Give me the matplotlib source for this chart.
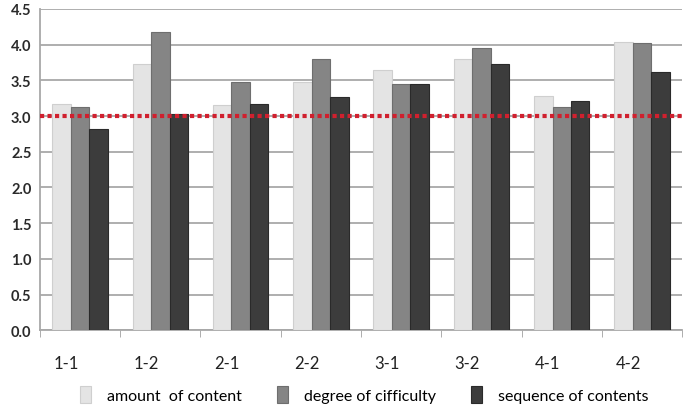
import matplotlib.pyplot as plt
import matplotlib.transforms as mtransforms
import numpy as np

# data
units = ['1-1', '1-2', '2-1', '2-2', '3-1', '3-2', '4-1', '4-2']
amount = [3.17, 3.73, 3.15, 3.47, 3.64, 3.80, 3.28, 4.03]
difficulty = [3.12, 4.17, 3.47, 3.80, 3.45, 3.95, 3.12, 4.02]
sequence = [2.82, 3.03, 3.17, 3.26, 3.45, 3.73, 3.21, 3.61]
series_names = ['amount  of content', 'degree of cifficulty', 'sequence of contents']
baseline = 3.0

plt.rcParams['font.family'] = ['Lato', 'DejaVu Sans']

fig = plt.figure(figsize=(6.87, 4.14), dpi=100)
ax = fig.add_axes([0.058, 0.200, 0.935, 0.776])

x = np.arange(len(units))
w = 0.23
colors = ['#e4e4e4', '#858585', '#3c3c3c']
edges = ['#cfcfcf', '#6e6e6e', '#2a2a2a']
handles = []
for i, (vals, c, ec) in enumerate(zip([amount, difficulty, sequence], colors, edges)):
    b = ax.bar(x + (i - 1) * w, vals, w, color=c, edgecolor=ec, linewidth=0.8, zorder=3)
    handles.append(b)

ax.axhline(baseline, color='#d0202e', linestyle=(0, (1, 0.8)), linewidth=3, zorder=4)

ax.set_xlim(-0.5, len(units) - 0.5)
ax.set_ylim(0, 4.5)
ax.set_yticks(np.arange(0, 4.51, 0.5))
ax.set_yticklabels(['%.1f' % v for v in np.arange(0, 4.51, 0.5)], fontsize=10.5,
                   fontweight='bold', color='#2a2a2a')
ax.yaxis.grid(True, color='#a8a8a8', linewidth=1.3, zorder=0)
ax.set_axisbelow(True)
ax.tick_params(axis='y', length=0, pad=6)

ax.set_xticks(x)
ax.set_xticklabels(units, fontsize=12, color='#222222')
ax.set_xticks(np.arange(-0.5, len(units), 1), minor=True)
ax.tick_params(axis='x', which='major', length=0, pad=18)
ax.tick_params(axis='x', which='minor', length=5, color='#a0a0a0')
# labels sit a little left of the group centres in the original
offset = mtransforms.ScaledTranslation(-14 / 100, 0, fig.dpi_scale_trans)
for lab in ax.get_xticklabels():
    lab.set_transform(lab.get_transform() + offset)

for s in ['top', 'right']:
    ax.spines[s].set_visible(False)
ax.spines['left'].set_color('#a8a8a8')
ax.spines['bottom'].set_color('#a8a8a8')
ax.spines['left'].set_linewidth(1.3)
ax.spines['bottom'].set_linewidth(1.3)

fig.legend(handles, series_names, loc='lower center', bbox_to_anchor=(0.53, -0.01),
           ncol=3, frameon=False, fontsize=11.5, handlelength=0.7, handleheight=1.2,
           columnspacing=2.2, handletextpad=1.0)

fig.savefig('out.png', dpi=100)
